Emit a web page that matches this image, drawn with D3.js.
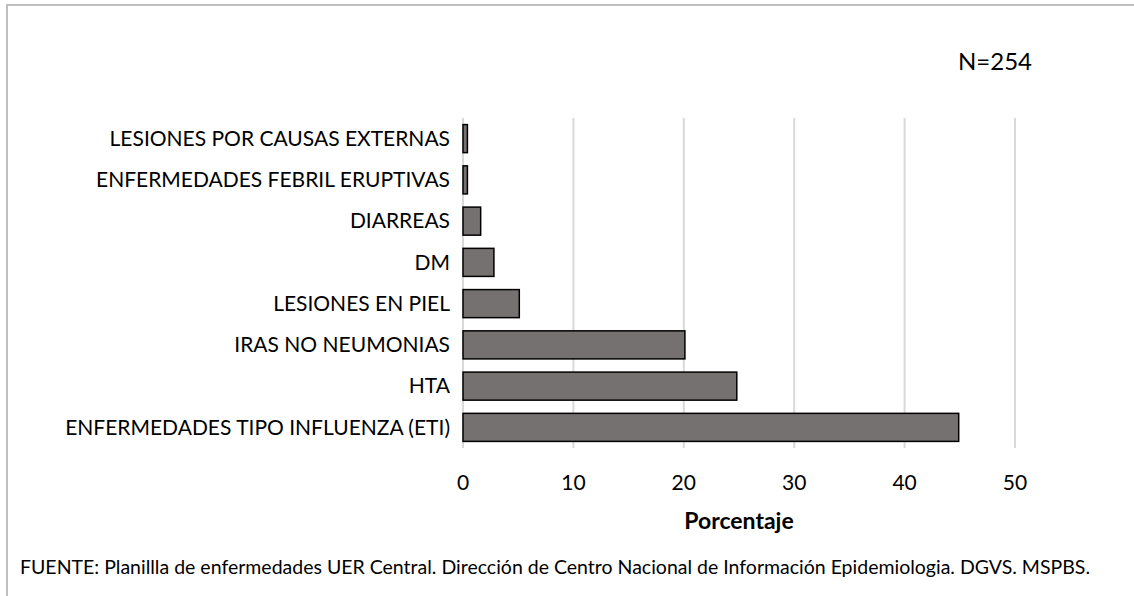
<!DOCTYPE html>
<html>
<head>
<meta charset="utf-8">
<script src="https://cdn.jsdelivr.net/npm/d3@7"></script>
<style>
  body { margin: 0; background: #fff; }
  text { font-family: Lato, "Open Sans", sans-serif; fill: #000; }
</style>
</head>
<body>
<svg id="chart" width="1134" height="596"></svg>
<script>
// data, top to bottom as drawn
const categories = [
    'LESIONES POR CAUSAS EXTERNAS',
    'ENFERMEDADES FEBRIL ERUPTIVAS',
    'DIARREAS',
    'DM',
    'LESIONES EN PIEL',
    'IRAS NO NEUMONIAS',
    'HTA',
    'ENFERMEDADES TIPO INFLUENZA (ETI)'
]
const percentages = [0.4, 0.4, 1.6, 2.8, 5.1, 20.1, 24.8, 44.9]
const xTicks = [0, 10, 20, 30, 40, 50]
const nLabel = 'N=254'
const xTitle = 'Porcentaje'
const source = 'FUENTE: Planillla de enfermedades UER Central. Dirección de Centro Nacional de Información Epidemiologia. DGVS. MSPBS.'

let svg = d3.select('#chart')

// outer frame (only top and left edges fall inside the picture)
svg.append('rect')
    .attr('x', 7).attr('y', 5)
    .attr('width', 1200).attr('height', 700)
    .attr('fill', 'none')
    .attr('stroke', '#bfbfbf')
    .attr('stroke-width', 2)

const plot = {left: 463, right: 1015, top: 118, bottom: 448}

let x = d3.scaleLinear().domain([0, 50]).range([plot.left, plot.right])
let y = d3.scaleBand().domain(categories).range([plot.top, plot.bottom]).paddingInner(0.32).paddingOuter(0.16)

// gridlines
svg.append('g')
    .selectAll('line')
    .data(xTicks)
    .join('line')
    .attr('x1', d => x(d)).attr('x2', d => x(d))
    .attr('y1', plot.top).attr('y2', plot.bottom)
    .attr('stroke', '#d9d9d9')
    .attr('stroke-width', 2)

// bars
svg.append('g')
    .selectAll('rect')
    .data(percentages)
    .join('rect')
    .attr('x', x(0))
    .attr('y', (d, i) => y(categories[i]))
    .attr('width', d => x(d) - x(0))
    .attr('height', y.bandwidth())
    .attr('fill', '#767171')
    .attr('stroke', '#000')
    .attr('stroke-width', 1.5)

// category labels
svg.append('g')
    .selectAll('text')
    .data(categories)
    .join('text')
    .attr('x', 450)
    .attr('y', d => y(d) + y.bandwidth() / 2)
    .attr('dy', '0.35em')
    .attr('text-anchor', 'end')
    .style('font-size', '21px')
    .text(d => d)

// tick labels
svg.append('g')
    .selectAll('text')
    .data(xTicks)
    .join('text')
    .attr('x', d => x(d))
    .attr('y', 490)
    .attr('text-anchor', 'middle')
    .style('font-size', '21px')
    .text(d => d)

svg.append('text')
    .attr('x', (plot.left + plot.right) / 2)
    .attr('y', 529)
    .attr('text-anchor', 'middle')
    .style('font-size', '23px')
    .style('font-weight', 'bold')
    .text(xTitle)

svg.append('text')
    .attr('x', 958)
    .attr('y', 70)
    .style('font-size', '24px')
    .text(nLabel)

svg.append('text')
    .attr('x', 20)
    .attr('y', 574)
    .style('font-size', '19.5px')
    .text(source)
</script>
</body>
</html>
